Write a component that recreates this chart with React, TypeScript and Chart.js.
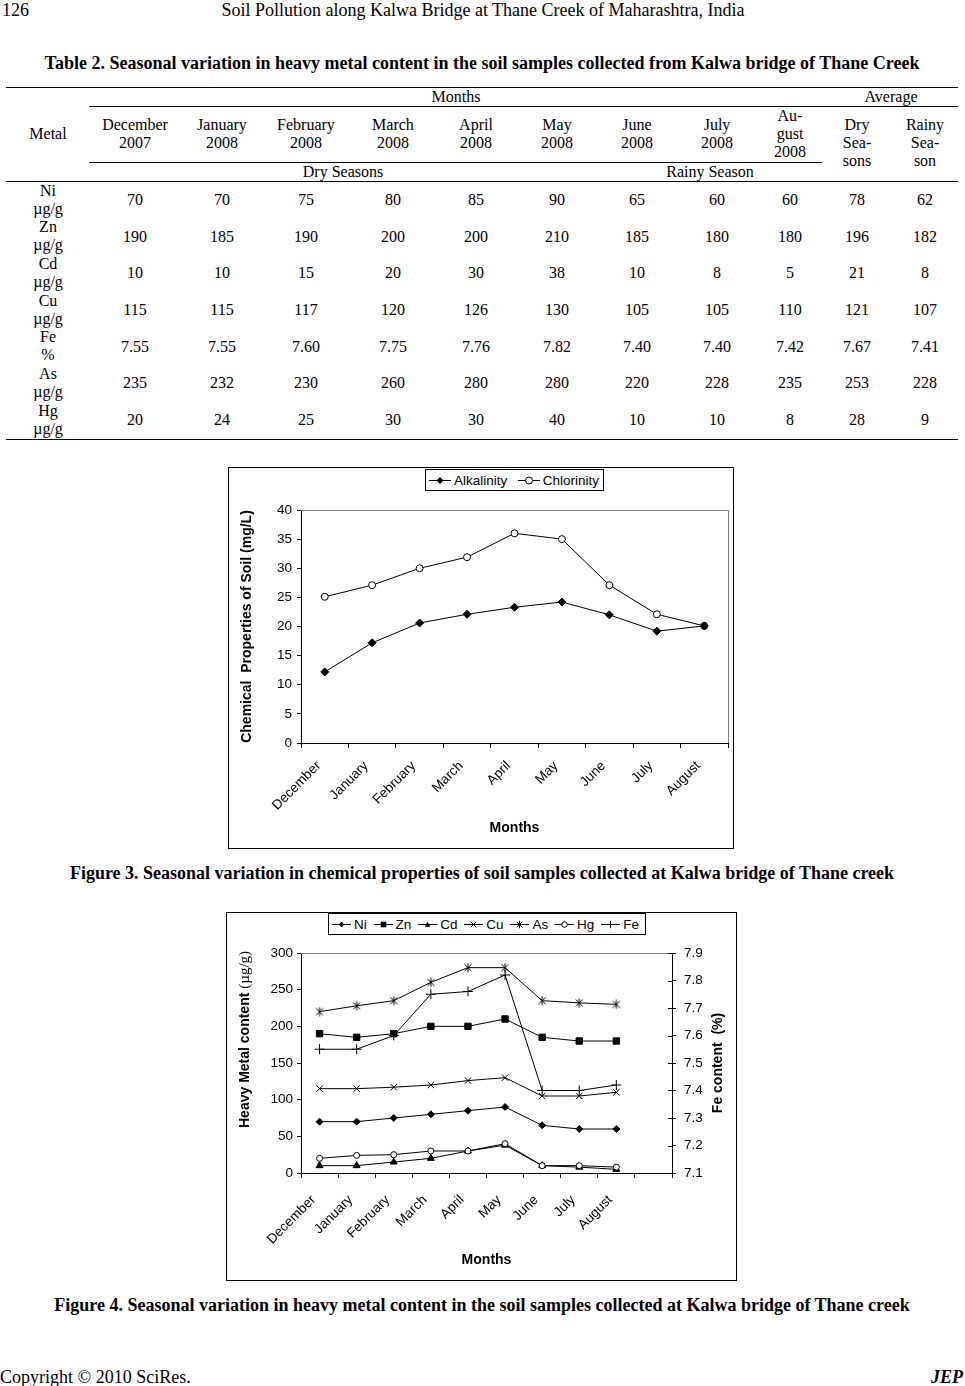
import React, { useEffect, useRef } from "react";
import { Chart, registerables } from "chart.js";

Chart.register(...registerables);

const SERIF = '"Liberation Serif", "Times New Roman", serif';
const SANS = '"Liberation Sans", Arial, sans-serif';

// ---------------- Table 2 data ----------------
const tableMonthHeaders = [
  ["December", "2007"],
  ["January", "2008"],
  ["February", "2008"],
  ["March", "2008"],
  ["April", "2008"],
  ["May", "2008"],
  ["June", "2008"],
  ["July", "2008"],
  ["Au-", "gust", "2008"],
];
const tableAverageHeaders = [
  ["Dry", "Sea-", "sons"],
  ["Rainy", "Sea-", "son"],
];
const metalNames = ["Ni", "Zn", "Cd", "Cu", "Fe", "As", "Hg"];
const metalUnits = ["µg/g", "µg/g", "µg/g", "µg/g", "%", "µg/g", "µg/g"];
const niRow = ["70", "70", "75", "80", "85", "90", "65", "60", "60", "78", "62"];
const znRow = ["190", "185", "190", "200", "200", "210", "185", "180", "180", "196", "182"];
const cdRow = ["10", "10", "15", "20", "30", "38", "10", "8", "5", "21", "8"];
const cuRow = ["115", "115", "117", "120", "126", "130", "105", "105", "110", "121", "107"];
const feRow = ["7.55", "7.55", "7.60", "7.75", "7.76", "7.82", "7.40", "7.40", "7.42", "7.67", "7.41"];
const asRow = ["235", "232", "230", "260", "280", "280", "220", "228", "235", "253", "228"];
const hgRow = ["20", "24", "25", "30", "30", "40", "10", "10", "8", "28", "9"];
const tableRows = [niRow, znRow, cdRow, cuRow, feRow, asRow, hgRow];

// ---------------- Figure 3 data ----------------
const fig3Months = ["December", "January", "February", "March", "April", "May", "June", "July", "August"];
const alkalinity = [12.2, 17.2, 20.6, 22.1, 23.3, 24.2, 22.0, 19.2, 20.1];
const chlorinity = [25.1, 27.1, 30.0, 31.9, 36.0, 35.0, 27.1, 22.1, 20.1];
const fig3YMin = 0;
const fig3YMax = 40;
const fig3YStep = 5;

// ---------------- Figure 4 data ----------------
const fig4Months = ["December", "January", "February", "March", "April", "May", "June", "July", "August", ""];
const niSeries = [70, 70, 75, 80, 85, 90, 65, 60, 60];
const znSeries = [190, 185, 190, 200, 200, 210, 185, 180, 180];
const cdSeries = [10, 10, 15, 20, 30, 38, 10, 8, 5];
const cuSeries = [115, 115, 117, 120, 126, 130, 105, 105, 110];
const asSeries = [220, 228, 235, 260, 280, 280, 235, 232, 230];
const hgSeries = [20, 24, 25, 30, 30, 40, 10, 10, 8];
const feSeries = [7.55, 7.55, 7.6, 7.75, 7.76, 7.82, 7.4, 7.4, 7.42];
const fig4YMin = 0;
const fig4YMax = 300;
const fig4YStep = 50;
const fig4FeMin = 7.1;
const fig4FeMax = 7.9;
const fig4FeStep = 0.1;

// ---------------- layout constants ----------------
const colCenters = [48, 135, 222, 306, 393, 476, 557, 637, 717, 790, 857, 925];
const rowCenter0 = 200;
const rowPitch = 36.67;

function Text(props: {
  cx?: number;
  left?: number;
  right?: number;
  cy: number;
  lines: string[];
  size?: number;
  lh?: number;
  bold?: boolean;
  italic?: boolean;
  family?: string;
  w?: number;
}) {
  const { cx, left, right, cy, lines, size = 16, lh = 18, bold, italic, family = SERIF, w = 140 } = props;
  const style: React.CSSProperties = {
    position: "absolute",
    top: cy - (lines.length * lh) / 2,
    fontFamily: family,
    fontSize: size,
    lineHeight: `${lh}px`,
    fontWeight: bold ? "bold" : "normal",
    fontStyle: italic ? "italic" : "normal",
    whiteSpace: "pre",
    color: "#000",
  };
  if (cx !== undefined) {
    style.left = cx - w / 2;
    style.width = w;
    style.textAlign = "center";
  } else if (left !== undefined) {
    style.left = left;
  } else if (right !== undefined) {
    style.right = 965 - right;
    style.textAlign = "right";
  }
  return (
    <div style={style}>
      {lines.map((l, i) => (
        <div key={i}>{l}</div>
      ))}
    </div>
  );
}

function Rule({ x1, x2, y, h = 1 }: { x1: number; x2: number; y: number; h?: number }) {
  return <div style={{ position: "absolute", left: x1, top: y, width: x2 - x1, height: h, background: "#000" }} />;
}

type MarkerKind = "diamond" | "square" | "triangle" | "x" | "star" | "circle" | "plus";

function LegendSymbol({ kind, w, s }: { kind: MarkerKind; w: number; s: number }) {
  const h = 13;
  const cx = w / 2;
  const cy = 6.5;
  let m: React.ReactNode = null;
  const st = { stroke: "#000", strokeWidth: 1 };
  switch (kind) {
    case "diamond":
      m = <polygon points={`${cx},${cy - s} ${cx + s},${cy} ${cx},${cy + s} ${cx - s},${cy}`} fill="#000" />;
      break;
    case "square":
      m = <rect x={cx - s} y={cy - s} width={2 * s} height={2 * s} fill="#000" />;
      break;
    case "triangle":
      m = <polygon points={`${cx},${cy - s} ${cx + s},${cy + s * 0.8} ${cx - s},${cy + s * 0.8}`} fill="#000" />;
      break;
    case "x":
      m = (
        <g {...st}>
          <line x1={cx - s} y1={cy - s} x2={cx + s} y2={cy + s} />
          <line x1={cx - s} y1={cy + s} x2={cx + s} y2={cy - s} />
        </g>
      );
      break;
    case "star":
      m = (
        <g {...st}>
          <line x1={cx - s} y1={cy - s} x2={cx + s} y2={cy + s} />
          <line x1={cx - s} y1={cy + s} x2={cx + s} y2={cy - s} />
          <line x1={cx} y1={cy - s - 1} x2={cx} y2={cy + s + 1} />
        </g>
      );
      break;
    case "circle":
      m = <circle cx={cx} cy={cy} r={s} fill="#fff" stroke="#000" strokeWidth={1} />;
      break;
    case "plus":
      m = (
        <g {...st}>
          <line x1={cx - s - 1} y1={cy} x2={cx + s + 1} y2={cy} />
          <line x1={cx} y1={cy - s - 1} x2={cx} y2={cy + s + 1} />
        </g>
      );
      break;
  }
  return (
    <svg width={w} height={h} style={{ display: "block" }}>
      <line x1={0} y1={cy} x2={w} y2={cy} stroke="#000" strokeWidth={1} />
      {m}
    </svg>
  );
}

function Legend(props: {
  left: number;
  top: number;
  width: number;
  height: number;
  items: { label: string; kind: MarkerKind }[];
  symW: number;
  symS: number;
  padL: number;
  padR: number;
}) {
  const { left, top, width, height, items, symW, symS, padL, padR } = props;
  return (
    <div
      style={{
        position: "absolute",
        left,
        top,
        width,
        height,
        boxSizing: "border-box",
        border: "1px solid #000",
        background: "#fff",
        display: "flex",
        alignItems: "center",
        justifyContent: "space-between",
        paddingLeft: padL,
        paddingRight: padR,
        fontFamily: SANS,
        fontSize: 13.5,
        color: "#000",
        zIndex: 2,
      }}
    >
      {items.map((it) => (
        <div key={it.label} style={{ display: "flex", alignItems: "center" }}>
          <LegendSymbol kind={it.kind} w={symW} s={symS} />
          <span style={{ marginLeft: 3, lineHeight: "15px" }}>{it.label}</span>
        </div>
      ))}
    </div>
  );
}

const tickFont = { family: SANS, size: 13.5 };
const titleFont = { family: SANS, size: 14, weight: "bold" as const };

function Figure3() {
  const ref = useRef<HTMLCanvasElement>(null);
  useEffect(() => {
    const frame = {
      id: "fig3Frame",
      beforeDatasetsDraw(chart: any) {
        const { ctx, chartArea: a } = chart;
        ctx.save();
        ctx.strokeStyle = "#808080";
        ctx.lineWidth = 1;
        const t = Math.round(a.top) + 0.5;
        const r = Math.round(a.right) + 0.5;
        ctx.beginPath();
        ctx.moveTo(a.left, t);
        ctx.lineTo(r, t);
        ctx.lineTo(r, a.bottom);
        ctx.stroke();
        ctx.restore();
      },
    };
    const chart = new Chart(ref.current as HTMLCanvasElement, {
      type: "line",
      data: {
        labels: fig3Months,
        datasets: [
          {
            label: "Alkalinity",
            data: alkalinity,
            borderColor: "#000",
            borderWidth: 1,
            pointStyle: "rectRot",
            pointRadius: 4,
            pointBackgroundColor: "#000",
            pointBorderColor: "#000",
            pointBorderWidth: 1,
            tension: 0,
            fill: false,
          },
          {
            label: "Chlorinity",
            data: chlorinity,
            borderColor: "#000",
            borderWidth: 1,
            pointStyle: "circle",
            pointRadius: 3.5,
            pointBackgroundColor: "#fff",
            pointBorderColor: "#000",
            pointBorderWidth: 1,
            tension: 0,
            fill: false,
          },
        ],
      },
      options: {
        responsive: false,
        animation: false,
        devicePixelRatio: 1,
        events: [],
        layout: { padding: { top: 42, right: 4, bottom: 0, left: 0 } },
        plugins: { legend: { display: false }, tooltip: { enabled: false }, title: { display: false } },
        scales: {
          x: {
            type: "category",
            offset: true,
            grid: { offset: true, drawOnChartArea: false, drawTicks: true, tickLength: 5, tickColor: "#000", color: "#000" },
            border: { display: true, color: "#000", width: 1 },
            ticks: {
              color: "#000",
              font: tickFont,
              minRotation: 45,
              maxRotation: 45,
              autoSkip: false,
              padding: 10,
              labelOffset: -6,
            },
            title: { display: true, text: "Months", color: "#000", font: titleFont, padding: { top: 0, bottom: 11 } },
            afterFit: (s: any) => {
              s.height = 105;
              s.paddingLeft = 0;
              s.paddingRight = 0;
            },
          },
          y: {
            min: fig3YMin,
            max: fig3YMax,
            ticks: { stepSize: fig3YStep, color: "#000", font: tickFont, padding: 5 },
            grid: { drawOnChartArea: false, drawTicks: true, tickLength: 4, tickColor: "#000", color: "#000" },
            border: { display: true, color: "#000", width: 1 },
            title: {
              display: true,
              text: "Chemical  Properties of Soil (mg/L)",
              color: "#000",
              font: titleFont,
              padding: { top: 10, bottom: 0 },
            },
            afterFit: (s: any) => {
              s.width = 72;
              s.paddingTop = 0;
              s.paddingBottom = 0;
            },
          },
        },
      },
      plugins: [frame],
    } as any);
    return () => chart.destroy();
  }, []);
  return (
    <>
      <div
        style={{
          position: "absolute",
          left: 228,
          top: 467,
          width: 506,
          height: 382,
          boxSizing: "border-box",
          border: "1px solid #000",
        }}
      />
      <canvas ref={ref} width={504} height={380} style={{ position: "absolute", left: 229, top: 468 }} />
      <Legend
        left={425}
        top={469}
        width={179}
        height={22}
        padL={3}
        padR={4}
        symW={22}
        symS={3.5}
        items={[
          { label: "Alkalinity", kind: "diamond" },
          { label: "Chlorinity", kind: "circle" },
        ]}
      />
    </>
  );
}

function makeStar(size: number) {
  const c = document.createElement("canvas");
  c.width = size;
  c.height = size;
  const g = c.getContext("2d") as CanvasRenderingContext2D;
  g.strokeStyle = "#000";
  g.lineWidth = 1;
  const m = size / 2;
  const s = size / 2 - 1.5;
  g.beginPath();
  g.moveTo(m - s, m - s);
  g.lineTo(m + s, m + s);
  g.moveTo(m - s, m + s);
  g.lineTo(m + s, m - s);
  g.moveTo(m, 0.5);
  g.lineTo(m, size - 0.5);
  g.stroke();
  return c;
}

function Figure4() {
  const ref = useRef<HTMLCanvasElement>(null);
  useEffect(() => {
    const star = makeStar(10);
    const decor = {
      id: "fig4Decor",
      beforeDatasetsDraw(chart: any) {
        const { ctx, chartArea: a, scales } = chart;
        ctx.save();
        ctx.strokeStyle = "#808080";
        ctx.lineWidth = 1;
        const t = Math.round(a.top) + 0.5;
        ctx.beginPath();
        ctx.moveTo(a.left, t);
        ctx.lineTo(a.right, t);
        ctx.stroke();
        const y2 = scales.y2;
        ctx.strokeStyle = "#000";
        ctx.beginPath();
        y2.ticks.forEach((_t: any, i: number) => {
          const py = Math.round(y2.getPixelForTick(i)) + 0.5;
          ctx.moveTo(a.right - 4, py);
          ctx.lineTo(a.right, py);
        });
        ctx.stroke();
        ctx.restore();
      },
      afterDraw(chart: any) {
        const { ctx, chartArea: a } = chart;
        ctx.save();
        ctx.fillStyle = "#000";
        ctx.textBaseline = "middle";
        const main = "Heavy Metal content ";
        const unit = "(µg/g)";
        const bold = `bold 14px ${SANS}`;
        const serif = `15px ${SERIF}`;
        ctx.font = bold;
        const w1 = ctx.measureText(main).width;
        ctx.translate(a.left - 55.5, a.bottom - 45);
        ctx.rotate(-Math.PI / 2);
        ctx.textAlign = "left";
        ctx.fillText(main, 0, 0);
        ctx.font = serif;
        ctx.fillText(unit, w1, 0);
        ctx.restore();

        ctx.save();
        ctx.fillStyle = "#000";
        ctx.textBaseline = "middle";
        ctx.textAlign = "center";
        ctx.font = bold;
        ctx.translate(a.right + 46.5, (a.top + a.bottom) / 2);
        ctx.rotate(-Math.PI / 2);
        ctx.fillText("Fe content  (%)", 0, 0);
        ctx.restore();
      },
    };
    const base = {
      borderColor: "#000",
      borderWidth: 1,
      pointBorderColor: "#000",
      pointBorderWidth: 1,
      tension: 0,
      fill: false,
      yAxisID: "y",
    };
    const chart = new Chart(ref.current as HTMLCanvasElement, {
      type: "line",
      data: {
        labels: fig4Months,
        datasets: [
          { ...base, label: "Ni", data: niSeries, pointStyle: "rectRot", pointRadius: 3.5, pointBackgroundColor: "#000", order: 7 },
          { ...base, label: "Zn", data: znSeries, pointStyle: "rect", pointRadius: 4.5, pointBackgroundColor: "#000", order: 6 },
          { ...base, label: "Cd", data: cdSeries, pointStyle: "triangle", pointRadius: 4, pointBackgroundColor: "#000", order: 5 },
          { ...base, label: "Cu", data: cuSeries, pointStyle: "crossRot", pointRadius: 4.5, pointBackgroundColor: "#000", order: 4 },
          { ...base, label: "As", data: asSeries, pointStyle: star, pointRadius: 4, order: 3 },
          { ...base, label: "Hg", data: hgSeries, pointStyle: "circle", pointRadius: 3, pointBackgroundColor: "#fff", order: 2 },
          { ...base, label: "Fe", data: feSeries, pointStyle: "cross", pointRadius: 5, yAxisID: "y2", order: 1 },
        ],
      },
      options: {
        responsive: false,
        animation: false,
        devicePixelRatio: 1,
        events: [],
        layout: { padding: { top: 40, right: 0, bottom: 0, left: 0 } },
        plugins: { legend: { display: false }, tooltip: { enabled: false }, title: { display: false } },
        scales: {
          x: {
            type: "category",
            offset: true,
            grid: { offset: true, drawOnChartArea: false, drawTicks: true, tickLength: 5, tickColor: "#000", color: "#000" },
            border: { display: true, color: "#000", width: 1 },
            ticks: {
              color: "#000",
              font: tickFont,
              minRotation: 45,
              maxRotation: 45,
              autoSkip: false,
              padding: 14,
              labelOffset: -6,
            },
            title: { display: true, text: "Months", color: "#000", font: titleFont, padding: { top: 0, bottom: 11 } },
            afterFit: (s: any) => {
              s.height = 107;
              s.paddingLeft = 0;
              s.paddingRight = 0;
            },
          },
          y: {
            position: "left",
            min: fig4YMin,
            max: fig4YMax,
            ticks: { stepSize: fig4YStep, color: "#000", font: tickFont, padding: 4 },
            grid: { drawOnChartArea: false, drawTicks: true, tickLength: 4, tickColor: "#000", color: "#000" },
            border: { display: true, color: "#000", width: 1 },
            afterFit: (s: any) => {
              s.width = 74;
              s.paddingTop = 0;
              s.paddingBottom = 0;
            },
          },
          y2: {
            position: "right",
            min: fig4FeMin,
            max: fig4FeMax,
            ticks: {
              stepSize: fig4FeStep,
              color: "#000",
              font: tickFont,
              padding: 8,
              callback: (v: any) => Number(v).toFixed(1),
            },
            grid: { drawOnChartArea: false, drawTicks: true, tickLength: 4, tickColor: "#000", color: "#000" },
            border: { display: true, color: "#000", width: 1 },
            afterFit: (s: any) => {
              s.width = 64;
              s.paddingTop = 0;
              s.paddingBottom = 0;
            },
          },
        },
      },
      plugins: [decor],
    } as any);
    return () => chart.destroy();
  }, []);
  return (
    <>
      <div
        style={{
          position: "absolute",
          left: 226,
          top: 912,
          width: 511,
          height: 369,
          boxSizing: "border-box",
          border: "1px solid #000",
        }}
      />
      <canvas ref={ref} width={509} height={367} style={{ position: "absolute", left: 227, top: 913 }} />
      <Legend
        left={328}
        top={913}
        width={318}
        height={22}
        padL={3}
        padR={6}
        symW={19}
        symS={2.8}
        items={[
          { label: "Ni", kind: "diamond" },
          { label: "Zn", kind: "square" },
          { label: "Cd", kind: "triangle" },
          { label: "Cu", kind: "x" },
          { label: "As", kind: "star" },
          { label: "Hg", kind: "circle" },
          { label: "Fe", kind: "plus" },
        ]}
      />
    </>
  );
}

function Table2() {
  return (
    <>
      <Rule x1={6} x2={958} y={87} />
      <Rule x1={89} x2={958} y={106} />
      <Rule x1={89} x2={822} y={162} />
      <Rule x1={6} x2={958} y={181} />
      <Rule x1={6} x2={958} y={439} />
      <Text cx={456} cy={97} lines={["Months"]} />
      <Text cx={891} cy={97} lines={["Average"]} />
      <Text cx={colCenters[0]} cy={133.5} lines={["Metal"]} />
      {tableMonthHeaders.map((lines, i) => (
        <Text key={"h" + i} cx={colCenters[i + 1]} cy={lines.length === 3 ? 134.3 : 134} lines={lines} />
      ))}
      {tableAverageHeaders.map((lines, i) => (
        <Text key={"a" + i} cx={colCenters[10 + i]} cy={143} lines={lines} />
      ))}
      <Text cx={343} cy={172} lines={["Dry Seasons"]} />
      <Text cx={710} cy={172} lines={["Rainy Season"]} />
      {tableRows.map((row, r) => {
        const cy = rowCenter0 + r * rowPitch;
        return (
          <React.Fragment key={"r" + r}>
            <Text cx={colCenters[0]} cy={cy - 0.5} lines={[metalNames[r], metalUnits[r]]} />
            {row.map((v, c) => (
              <Text key={c} cx={colCenters[c + 1]} cy={cy} lines={[v]} />
            ))}
          </React.Fragment>
        );
      })}
    </>
  );
}

export default function App() {
  return (
    <div
      style={{
        position: "absolute",
        left: 0,
        top: 0,
        width: 965,
        height: 1386,
        overflow: "hidden",
        background: "#fff",
      }}
    >
      <Text left={2} cy={10} lines={["126"]} size={18} lh={20} />
      <Text cx={483} w={900} cy={10} lines={["Soil Pollution along Kalwa Bridge at Thane Creek of Maharashtra, India"]} size={18} lh={20} />
      <Text
        cx={482}
        w={960}
        cy={63}
        bold
        size={18}
        lh={20}
        lines={["Table 2. Seasonal variation in heavy metal content in the soil samples collected from Kalwa bridge of Thane Creek"]}
      />
      <Table2 />
      <Figure3 />
      <Text
        cx={482}
        w={960}
        cy={873}
        bold
        size={18}
        lh={20}
        lines={["Figure 3. Seasonal variation in chemical properties of soil samples collected at Kalwa bridge of Thane creek"]}
      />
      <Figure4 />
      <Text
        cx={482}
        w={960}
        cy={1305}
        bold
        size={18}
        lh={20}
        lines={["Figure 4. Seasonal variation in heavy metal content in the soil samples collected at Kalwa bridge of Thane creek"]}
      />
      <Text left={0} cy={1377} lines={["Copyright © 2010 SciRes."]} size={18} lh={20} />
      <Text right={963} cy={1377} lines={["JEP"]} size={18} lh={20} bold italic />
    </div>
  );
}
